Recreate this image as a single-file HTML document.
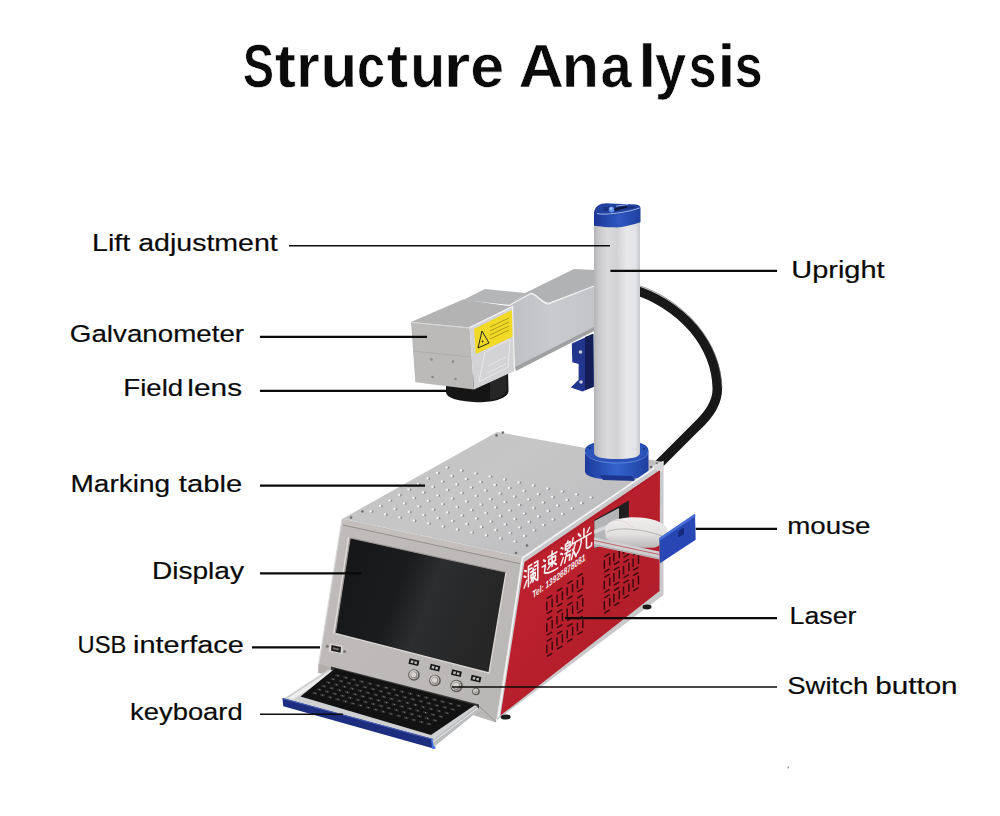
<!DOCTYPE html>
<html><head><meta charset="utf-8">
<style>
html,body{margin:0;padding:0;background:#fff;width:1000px;height:816px;overflow:hidden}
svg{position:absolute;left:0;top:0;display:block}
text{font-family:"Liberation Sans",sans-serif;fill:#0a0a0a}
</style></head>
<body>
<svg width="1000" height="816" viewBox="0 0 1000 816">
<defs>
  <linearGradient id="colG" x1="0" x2="1" y1="0" y2="0">
    <stop offset="0" stop-color="#b4b4b6"/>
    <stop offset="0.1" stop-color="#c8c8ca"/>
    <stop offset="0.3" stop-color="#dadadc"/>
    <stop offset="0.5" stop-color="#d2d2d4"/>
    <stop offset="0.72" stop-color="#e9e9eb"/>
    <stop offset="0.9" stop-color="#e2e3e6"/>
    <stop offset="1" stop-color="#c6c8cd"/>
  </linearGradient>
  <linearGradient id="capG" x1="0" x2="1" y1="0" y2="0">
    <stop offset="0" stop-color="#1c3796"/>
    <stop offset="0.55" stop-color="#2f58c0"/>
    <stop offset="1" stop-color="#20409f"/>
  </linearGradient>
  <linearGradient id="ringG" x1="0" x2="1" y1="0" y2="0">
    <stop offset="0" stop-color="#1d3a9c"/>
    <stop offset="0.5" stop-color="#3464cc"/>
    <stop offset="1" stop-color="#1f3fa0"/>
  </linearGradient>
  <linearGradient id="redG" x1="0" x2="1" y1="0" y2="1">
    <stop offset="0" stop-color="#c32230"/>
    <stop offset="0.5" stop-color="#b81f2c"/>
    <stop offset="1" stop-color="#ab1d29"/>
  </linearGradient>
  <linearGradient id="topG" x1="0" x2="1" y1="0" y2="0.6">
    <stop offset="0" stop-color="#c2c2c3"/>
    <stop offset="0.5" stop-color="#c6c6c7"/>
    <stop offset="1" stop-color="#bdbdbf"/>
  </linearGradient>
  <linearGradient id="scrG" x1="0" x2="1" y1="0" y2="0.3">
    <stop offset="0" stop-color="#141516"/>
    <stop offset="0.45" stop-color="#1b1c1d"/>
    <stop offset="0.62" stop-color="#2c2d2e"/>
    <stop offset="1" stop-color="#262627"/>
  </linearGradient>
  <linearGradient id="bezG" x1="0" x2="1" y1="0" y2="1">
    <stop offset="0" stop-color="#bfbcbb"/>
    <stop offset="1" stop-color="#b9b7b6"/>
  </linearGradient>
  <linearGradient id="armG" x1="0" x2="1" y1="0" y2="0">
    <stop offset="0" stop-color="#bfc0c3"/>
    <stop offset="0.5" stop-color="#c9cacd"/>
    <stop offset="1" stop-color="#c3c5c9"/>
  </linearGradient>
  <radialGradient id="btnG" cx="0.4" cy="0.4" r="0.6">
    <stop offset="0" stop-color="#e8e8e8"/>
    <stop offset="0.6" stop-color="#9a9a9a"/>
    <stop offset="1" stop-color="#4a4a4a"/>
  </radialGradient>
</defs>
<g font-size="61" font-weight="bold" stroke="#fff" stroke-width="0.6">
<text transform="translate(242.98 86.5) scale(0.761 1)">S</text>
<text transform="translate(274.76 86.5) scale(1.044 1)">t</text>
<text transform="translate(296.00 86.5) scale(1.000 1)">r</text>
<text transform="translate(320.57 86.5) scale(0.983 1)">u</text>
<text transform="translate(357.11 86.5) scale(0.829 1)">c</text>
<text transform="translate(386.53 86.5) scale(1.067 1)">t</text>
<text transform="translate(410.25 86.5) scale(0.938 1)">u</text>
<text transform="translate(443.55 86.5) scale(1.129 1)">r</text>
<text transform="translate(470.20 86.5) scale(1.000 1)">e</text>
<text transform="translate(518.43 86.5) scale(1.032 1)">A</text>
<text transform="translate(561.70 86.5) scale(1.000 1)">n</text>
<text transform="translate(600.56 86.5) scale(0.919 1)">a</text>
<text transform="translate(638.34 86.5) scale(1.071 1)">l</text>
<text transform="translate(655.08 86.5) scale(0.919 1)">y</text>
<text transform="translate(688.85 86.5) scale(0.818 1)">s</text>
<text transform="translate(717.51 86.5) scale(1.057 1)">i</text>
<text transform="translate(734.75 86.5) scale(0.818 1)">s</text>
</g>
<g font-size="24.5" stroke="#0a0a0a" stroke-width="0.2">
<text transform="translate(91.96 251.1) scale(1.171 1)">Lift</text>
<text transform="translate(138.24 251.1) scale(1.165 1)">adjustment</text>
<text transform="translate(69.87 341.5) scale(1.133 1)">Galvanometer</text>
<text transform="translate(123.34 395.7) scale(1.128 1)">Field</text>
<text transform="translate(187.37 395.7) scale(1.217 1)">lens</text>
<text transform="translate(70.51 491.5) scale(1.144 1)">Marking</text>
<text transform="translate(178.80 491.5) scale(1.194 1)">table</text>
<text transform="translate(151.91 579.1) scale(1.147 1)">Display</text>
<text transform="translate(77.56 653.3) scale(0.968 1)">USB</text>
<text transform="translate(133.04 653.3) scale(1.180 1)">interface</text>
<text transform="translate(130.06 720.4) scale(1.118 1)">keyboard</text>
<text transform="translate(791.24 278.3) scale(1.182 1)">Upright</text>
<text transform="translate(787.24 533.9) scale(1.132 1)">mouse</text>
<text transform="translate(789.62 623.6) scale(1.090 1)">Laser</text>
<text transform="translate(787.18 694.3) scale(1.124 1)">Switch</text>
<text transform="translate(875.18 694.3) scale(1.211 1)">button</text>
</g>
<g id="machine">
<path d="M636 290.5 C 652 295, 676 308, 694 329 C 708 346, 717 366, 717.3 389 C 717.5 404, 708 416, 696 427 L 658 465" fill="none" stroke="#181818" stroke-width="9.5" stroke-linecap="butt" stroke-linejoin="round"/>
<path d="M640 286 C 656 291, 680 304, 698 326 C 712 343, 721 364, 722 388" fill="none" stroke="#6a6a6a" stroke-width="1" opacity="0.7"/>
<polygon points="463,300 485,289 525,293 510,305" fill="#b5b6b8"/>
<path d="M510,305 L525,293 L574,269 L594,270 L594,286 L548,303 C 540,300 536,293 531,293 Z" fill="#b1b2b4"/>
<path d="M510,305 L531,293.5 C 537,294 541,303 548,304 L594,286 L594,329 L560,346 L515,369 Z" fill="url(#armG)"/>
<path d="M510,305 L531,293.5 C 537,294 541,303 548,304 L594,286" fill="none" stroke="#eeeeef" stroke-width="1.3"/>
<polygon points="515,367 594,327 594,331 516,371" fill="#9fa0a2"/>
<polygon points="571.8,343.5 593.3,333.7 593.8,386.7 582.5,391.6 570.8,387.6 578.6,379.8 578.6,364.1 572.3,362.2" fill="#22368e"/>
<polygon points="585,337 593.3,333.7 593.8,386.7 585,390" fill="#141f58"/>
<circle cx="580.5" cy="352" r="1.8" fill="#c8ccd8"/><circle cx="581" cy="382" r="1.8" fill="#c8ccd8"/>
<path d="M446 377 L508 371 L508.5 391 C 508 400, 488 403, 474 402 C 458 401, 446 398, 446 392 Z" fill="#151515"/>
<path d="M490 376 L506 373 L507 390 C 505 396, 496 399, 490 400 Z" fill="#262626"/>
<polygon points="411,322 463,299.5 512.5,306.5 469.6,327.6" fill="#b3b3b3"/>
<polygon points="411,322 469.6,327.6 474,389.5 415.3,382.3" fill="#bbbab9"/>
<line x1="413" y1="351" x2="471" y2="357" stroke="#a9a8a7" stroke-width="0.8"/><polyline points="411.5,322.5 469.6,328" fill="none" stroke="#dcdcdc" stroke-width="0.9"/>
<circle cx="431.5" cy="359.5" r="1.3" fill="#8a8988"/>
<circle cx="453" cy="361.5" r="1.3" fill="#8a8988"/>
<circle cx="432.5" cy="377" r="1.3" fill="#8a8988"/>
<circle cx="455.5" cy="379" r="1.3" fill="#8a8988"/>
<polygon points="469.6,327.6 512.5,306.5 514.5,371 474,389.5" fill="#d3d3d5"/>
<polyline points="469.6,327.6 512.5,306.5 514.5,371" fill="none" stroke="#f2f2f3" stroke-width="1.2"/>
<polygon points="474,329 512,310 512.5,336.8 475.8,354" fill="#f1da26"/>
<polygon points="478,348 482,331 489,343" fill="none" stroke="#222" stroke-width="1"/>
<circle cx="482.5" cy="341.5" r="0.9" fill="#222"/>
<line x1="490" y1="327" x2="509" y2="318" stroke="#6b5d10" stroke-width="0.5"/>
<line x1="490" y1="331" x2="509" y2="322" stroke="#6b5d10" stroke-width="0.5"/>
<line x1="490" y1="335" x2="509" y2="326" stroke="#6b5d10" stroke-width="0.5"/>
<line x1="490" y1="339" x2="509" y2="330" stroke="#6b5d10" stroke-width="0.5"/>
<polygon points="479,382 508,367 510,339 485,352" fill="none" stroke="#eaeaeb" stroke-width="0.9"/>
<line x1="488" y1="366" x2="506" y2="357" stroke="#eaeaeb" stroke-width="0.9"/><line x1="487" y1="373" x2="506" y2="364" stroke="#eaeaeb" stroke-width="0.9"/>
<path d="M594,222 L640,218 L640,446 L594,446 Z" fill="url(#colG)"/>
<path d="M594,212.5 C 595,206 600,203.5 606,203.3 L636,204.5 C 640,205 640.5,207 640.5,209 L640.5,222.3 C 632,225 622,227.5 617,227.5 C 606,227.5 594,226 594,225.6 Z" fill="url(#capG)"/>
<path d="M594.5,213 C 596,207 601,204 607,204 L635,205 C 639,205.5 640,207 640,209 C 636,211 625,213 615,214.5 C 605,215.5 597,215 594.5,213 Z" fill="#22409e"/>
<path d="M597,213.5 C 604,215.5 628,212.5 639.5,208" fill="none" stroke="#9fb8ee" stroke-width="1"/>
<path d="M603,207 L634,206 L636,208 L604,211 Z" fill="#1a3282"/>
<ellipse cx="611.5" cy="209.5" rx="2.8" ry="3" fill="#5d8ff0"/>
<ellipse cx="611" cy="208.5" rx="1.3" ry="1.2" fill="#a9c6fa"/>
<path d="M614,208.5 L626,205.5 L627.5,207.5 L615,211 Z" fill="#0c1640"/>
<path d="M616,206.2 L628,204.5" fill="none" stroke="#c9d8f5" stroke-width="0.7"/>
<polygon points="497,432 663,462 522.5,557.5 342,519" fill="url(#topG)"/>
<polyline points="342,519 522.5,557.5 663,462" fill="none" stroke="#e2e2e4" stroke-width="1.2"/>
<g>
<g fill="#8a8a8c"><ellipse cx="447.9" cy="467.7" rx="1.5" ry="1.1"/><ellipse cx="462.3" cy="470.7" rx="1.5" ry="1.1"/><ellipse cx="476.7" cy="473.7" rx="1.5" ry="1.1"/><ellipse cx="491.1" cy="476.7" rx="1.5" ry="1.1"/><ellipse cx="505.5" cy="479.7" rx="1.5" ry="1.1"/><ellipse cx="519.9" cy="482.7" rx="1.5" ry="1.1"/><ellipse cx="534.3" cy="485.7" rx="1.5" ry="1.1"/><ellipse cx="548.7" cy="488.7" rx="1.5" ry="1.1"/><ellipse cx="563.1" cy="491.7" rx="1.5" ry="1.1"/><ellipse cx="577.5" cy="494.7" rx="1.5" ry="1.1"/><ellipse cx="591.9" cy="497.7" rx="1.5" ry="1.1"/><ellipse cx="438.4" cy="473.2" rx="1.5" ry="1.1"/><ellipse cx="452.8" cy="476.2" rx="1.5" ry="1.1"/><ellipse cx="467.2" cy="479.2" rx="1.5" ry="1.1"/><ellipse cx="481.6" cy="482.2" rx="1.5" ry="1.1"/><ellipse cx="496.0" cy="485.2" rx="1.5" ry="1.1"/><ellipse cx="510.4" cy="488.2" rx="1.5" ry="1.1"/><ellipse cx="524.8" cy="491.2" rx="1.5" ry="1.1"/><ellipse cx="539.2" cy="494.2" rx="1.5" ry="1.1"/><ellipse cx="553.6" cy="497.2" rx="1.5" ry="1.1"/><ellipse cx="568.0" cy="500.2" rx="1.5" ry="1.1"/><ellipse cx="582.4" cy="503.2" rx="1.5" ry="1.1"/><ellipse cx="428.9" cy="478.7" rx="1.5" ry="1.1"/><ellipse cx="443.3" cy="481.7" rx="1.5" ry="1.1"/><ellipse cx="457.7" cy="484.7" rx="1.5" ry="1.1"/><ellipse cx="472.1" cy="487.7" rx="1.5" ry="1.1"/><ellipse cx="486.5" cy="490.7" rx="1.5" ry="1.1"/><ellipse cx="500.9" cy="493.7" rx="1.5" ry="1.1"/><ellipse cx="515.3" cy="496.7" rx="1.5" ry="1.1"/><ellipse cx="529.7" cy="499.7" rx="1.5" ry="1.1"/><ellipse cx="544.1" cy="502.7" rx="1.5" ry="1.1"/><ellipse cx="558.5" cy="505.7" rx="1.5" ry="1.1"/><ellipse cx="572.9" cy="508.7" rx="1.5" ry="1.1"/><ellipse cx="419.4" cy="484.2" rx="1.5" ry="1.1"/><ellipse cx="433.8" cy="487.2" rx="1.5" ry="1.1"/><ellipse cx="448.2" cy="490.2" rx="1.5" ry="1.1"/><ellipse cx="462.6" cy="493.2" rx="1.5" ry="1.1"/><ellipse cx="477.0" cy="496.2" rx="1.5" ry="1.1"/><ellipse cx="491.4" cy="499.2" rx="1.5" ry="1.1"/><ellipse cx="505.8" cy="502.2" rx="1.5" ry="1.1"/><ellipse cx="520.2" cy="505.2" rx="1.5" ry="1.1"/><ellipse cx="534.6" cy="508.2" rx="1.5" ry="1.1"/><ellipse cx="549.0" cy="511.2" rx="1.5" ry="1.1"/><ellipse cx="563.4" cy="514.2" rx="1.5" ry="1.1"/><ellipse cx="409.9" cy="489.7" rx="1.5" ry="1.1"/><ellipse cx="424.3" cy="492.7" rx="1.5" ry="1.1"/><ellipse cx="438.7" cy="495.7" rx="1.5" ry="1.1"/><ellipse cx="453.1" cy="498.7" rx="1.5" ry="1.1"/><ellipse cx="467.5" cy="501.7" rx="1.5" ry="1.1"/><ellipse cx="481.9" cy="504.7" rx="1.5" ry="1.1"/><ellipse cx="496.3" cy="507.7" rx="1.5" ry="1.1"/><ellipse cx="510.7" cy="510.7" rx="1.5" ry="1.1"/><ellipse cx="525.1" cy="513.7" rx="1.5" ry="1.1"/><ellipse cx="539.5" cy="516.7" rx="1.5" ry="1.1"/><ellipse cx="553.9" cy="519.7" rx="1.5" ry="1.1"/><ellipse cx="400.4" cy="495.2" rx="1.5" ry="1.1"/><ellipse cx="414.8" cy="498.2" rx="1.5" ry="1.1"/><ellipse cx="429.2" cy="501.2" rx="1.5" ry="1.1"/><ellipse cx="443.6" cy="504.2" rx="1.5" ry="1.1"/><ellipse cx="458.0" cy="507.2" rx="1.5" ry="1.1"/><ellipse cx="472.4" cy="510.2" rx="1.5" ry="1.1"/><ellipse cx="486.8" cy="513.2" rx="1.5" ry="1.1"/><ellipse cx="501.2" cy="516.2" rx="1.5" ry="1.1"/><ellipse cx="515.6" cy="519.2" rx="1.5" ry="1.1"/><ellipse cx="530.0" cy="522.2" rx="1.5" ry="1.1"/><ellipse cx="544.4" cy="525.2" rx="1.5" ry="1.1"/><ellipse cx="390.9" cy="500.7" rx="1.5" ry="1.1"/><ellipse cx="405.3" cy="503.7" rx="1.5" ry="1.1"/><ellipse cx="419.7" cy="506.7" rx="1.5" ry="1.1"/><ellipse cx="434.1" cy="509.7" rx="1.5" ry="1.1"/><ellipse cx="448.5" cy="512.7" rx="1.5" ry="1.1"/><ellipse cx="462.9" cy="515.7" rx="1.5" ry="1.1"/><ellipse cx="477.3" cy="518.7" rx="1.5" ry="1.1"/><ellipse cx="491.7" cy="521.7" rx="1.5" ry="1.1"/><ellipse cx="506.1" cy="524.7" rx="1.5" ry="1.1"/><ellipse cx="520.5" cy="527.7" rx="1.5" ry="1.1"/><ellipse cx="534.9" cy="530.7" rx="1.5" ry="1.1"/><ellipse cx="381.4" cy="506.2" rx="1.5" ry="1.1"/><ellipse cx="395.8" cy="509.2" rx="1.5" ry="1.1"/><ellipse cx="410.2" cy="512.2" rx="1.5" ry="1.1"/><ellipse cx="424.6" cy="515.2" rx="1.5" ry="1.1"/><ellipse cx="439.0" cy="518.2" rx="1.5" ry="1.1"/><ellipse cx="453.4" cy="521.2" rx="1.5" ry="1.1"/><ellipse cx="467.8" cy="524.2" rx="1.5" ry="1.1"/><ellipse cx="482.2" cy="527.2" rx="1.5" ry="1.1"/><ellipse cx="496.6" cy="530.2" rx="1.5" ry="1.1"/><ellipse cx="511.0" cy="533.2" rx="1.5" ry="1.1"/><ellipse cx="525.4" cy="536.2" rx="1.5" ry="1.1"/><ellipse cx="371.9" cy="511.7" rx="1.5" ry="1.1"/><ellipse cx="386.3" cy="514.7" rx="1.5" ry="1.1"/><ellipse cx="400.7" cy="517.7" rx="1.5" ry="1.1"/><ellipse cx="415.1" cy="520.7" rx="1.5" ry="1.1"/><ellipse cx="429.5" cy="523.7" rx="1.5" ry="1.1"/><ellipse cx="443.9" cy="526.7" rx="1.5" ry="1.1"/><ellipse cx="458.3" cy="529.7" rx="1.5" ry="1.1"/><ellipse cx="472.7" cy="532.7" rx="1.5" ry="1.1"/><ellipse cx="487.1" cy="535.7" rx="1.5" ry="1.1"/><ellipse cx="501.5" cy="538.7" rx="1.5" ry="1.1"/><ellipse cx="515.9" cy="541.7" rx="1.5" ry="1.1"/></g><g fill="#f6f6f7"><ellipse cx="446.6" cy="467.4" rx="1.3" ry="1.05"/><ellipse cx="461.0" cy="470.4" rx="1.3" ry="1.05"/><ellipse cx="475.4" cy="473.4" rx="1.3" ry="1.05"/><ellipse cx="489.8" cy="476.4" rx="1.3" ry="1.05"/><ellipse cx="504.2" cy="479.4" rx="1.3" ry="1.05"/><ellipse cx="518.6" cy="482.4" rx="1.3" ry="1.05"/><ellipse cx="533.0" cy="485.4" rx="1.3" ry="1.05"/><ellipse cx="547.4" cy="488.4" rx="1.3" ry="1.05"/><ellipse cx="561.8" cy="491.4" rx="1.3" ry="1.05"/><ellipse cx="576.2" cy="494.4" rx="1.3" ry="1.05"/><ellipse cx="590.6" cy="497.4" rx="1.3" ry="1.05"/><ellipse cx="437.1" cy="472.9" rx="1.3" ry="1.05"/><ellipse cx="451.5" cy="475.9" rx="1.3" ry="1.05"/><ellipse cx="465.9" cy="478.9" rx="1.3" ry="1.05"/><ellipse cx="480.3" cy="481.9" rx="1.3" ry="1.05"/><ellipse cx="494.7" cy="484.9" rx="1.3" ry="1.05"/><ellipse cx="509.1" cy="487.9" rx="1.3" ry="1.05"/><ellipse cx="523.5" cy="490.9" rx="1.3" ry="1.05"/><ellipse cx="537.9" cy="493.9" rx="1.3" ry="1.05"/><ellipse cx="552.3" cy="496.9" rx="1.3" ry="1.05"/><ellipse cx="566.7" cy="499.9" rx="1.3" ry="1.05"/><ellipse cx="581.1" cy="502.9" rx="1.3" ry="1.05"/><ellipse cx="427.6" cy="478.4" rx="1.3" ry="1.05"/><ellipse cx="442.0" cy="481.4" rx="1.3" ry="1.05"/><ellipse cx="456.4" cy="484.4" rx="1.3" ry="1.05"/><ellipse cx="470.8" cy="487.4" rx="1.3" ry="1.05"/><ellipse cx="485.2" cy="490.4" rx="1.3" ry="1.05"/><ellipse cx="499.6" cy="493.4" rx="1.3" ry="1.05"/><ellipse cx="514.0" cy="496.4" rx="1.3" ry="1.05"/><ellipse cx="528.4" cy="499.4" rx="1.3" ry="1.05"/><ellipse cx="542.8" cy="502.4" rx="1.3" ry="1.05"/><ellipse cx="557.2" cy="505.4" rx="1.3" ry="1.05"/><ellipse cx="571.6" cy="508.4" rx="1.3" ry="1.05"/><ellipse cx="418.1" cy="483.9" rx="1.3" ry="1.05"/><ellipse cx="432.5" cy="486.9" rx="1.3" ry="1.05"/><ellipse cx="446.9" cy="489.9" rx="1.3" ry="1.05"/><ellipse cx="461.3" cy="492.9" rx="1.3" ry="1.05"/><ellipse cx="475.7" cy="495.9" rx="1.3" ry="1.05"/><ellipse cx="490.1" cy="498.9" rx="1.3" ry="1.05"/><ellipse cx="504.5" cy="501.9" rx="1.3" ry="1.05"/><ellipse cx="518.9" cy="504.9" rx="1.3" ry="1.05"/><ellipse cx="533.3" cy="507.9" rx="1.3" ry="1.05"/><ellipse cx="547.7" cy="510.9" rx="1.3" ry="1.05"/><ellipse cx="562.1" cy="513.9" rx="1.3" ry="1.05"/><ellipse cx="408.6" cy="489.4" rx="1.3" ry="1.05"/><ellipse cx="423.0" cy="492.4" rx="1.3" ry="1.05"/><ellipse cx="437.4" cy="495.4" rx="1.3" ry="1.05"/><ellipse cx="451.8" cy="498.4" rx="1.3" ry="1.05"/><ellipse cx="466.2" cy="501.4" rx="1.3" ry="1.05"/><ellipse cx="480.6" cy="504.4" rx="1.3" ry="1.05"/><ellipse cx="495.0" cy="507.4" rx="1.3" ry="1.05"/><ellipse cx="509.4" cy="510.4" rx="1.3" ry="1.05"/><ellipse cx="523.8" cy="513.4" rx="1.3" ry="1.05"/><ellipse cx="538.2" cy="516.4" rx="1.3" ry="1.05"/><ellipse cx="552.6" cy="519.4" rx="1.3" ry="1.05"/><ellipse cx="399.1" cy="494.9" rx="1.3" ry="1.05"/><ellipse cx="413.5" cy="497.9" rx="1.3" ry="1.05"/><ellipse cx="427.9" cy="500.9" rx="1.3" ry="1.05"/><ellipse cx="442.3" cy="503.9" rx="1.3" ry="1.05"/><ellipse cx="456.7" cy="506.9" rx="1.3" ry="1.05"/><ellipse cx="471.1" cy="509.9" rx="1.3" ry="1.05"/><ellipse cx="485.5" cy="512.9" rx="1.3" ry="1.05"/><ellipse cx="499.9" cy="515.9" rx="1.3" ry="1.05"/><ellipse cx="514.3" cy="518.9" rx="1.3" ry="1.05"/><ellipse cx="528.7" cy="521.9" rx="1.3" ry="1.05"/><ellipse cx="543.1" cy="524.9" rx="1.3" ry="1.05"/><ellipse cx="389.6" cy="500.4" rx="1.3" ry="1.05"/><ellipse cx="404.0" cy="503.4" rx="1.3" ry="1.05"/><ellipse cx="418.4" cy="506.4" rx="1.3" ry="1.05"/><ellipse cx="432.8" cy="509.4" rx="1.3" ry="1.05"/><ellipse cx="447.2" cy="512.4" rx="1.3" ry="1.05"/><ellipse cx="461.6" cy="515.4" rx="1.3" ry="1.05"/><ellipse cx="476.0" cy="518.4" rx="1.3" ry="1.05"/><ellipse cx="490.4" cy="521.4" rx="1.3" ry="1.05"/><ellipse cx="504.8" cy="524.4" rx="1.3" ry="1.05"/><ellipse cx="519.2" cy="527.4" rx="1.3" ry="1.05"/><ellipse cx="533.6" cy="530.4" rx="1.3" ry="1.05"/><ellipse cx="380.1" cy="505.9" rx="1.3" ry="1.05"/><ellipse cx="394.5" cy="508.9" rx="1.3" ry="1.05"/><ellipse cx="408.9" cy="511.9" rx="1.3" ry="1.05"/><ellipse cx="423.3" cy="514.9" rx="1.3" ry="1.05"/><ellipse cx="437.7" cy="517.9" rx="1.3" ry="1.05"/><ellipse cx="452.1" cy="520.9" rx="1.3" ry="1.05"/><ellipse cx="466.5" cy="523.9" rx="1.3" ry="1.05"/><ellipse cx="480.9" cy="526.9" rx="1.3" ry="1.05"/><ellipse cx="495.3" cy="529.9" rx="1.3" ry="1.05"/><ellipse cx="509.7" cy="532.9" rx="1.3" ry="1.05"/><ellipse cx="524.1" cy="535.9" rx="1.3" ry="1.05"/><ellipse cx="370.6" cy="511.4" rx="1.3" ry="1.05"/><ellipse cx="385.0" cy="514.4" rx="1.3" ry="1.05"/><ellipse cx="399.4" cy="517.4" rx="1.3" ry="1.05"/><ellipse cx="413.8" cy="520.4" rx="1.3" ry="1.05"/><ellipse cx="428.2" cy="523.4" rx="1.3" ry="1.05"/><ellipse cx="442.6" cy="526.4" rx="1.3" ry="1.05"/><ellipse cx="457.0" cy="529.4" rx="1.3" ry="1.05"/><ellipse cx="471.4" cy="532.4" rx="1.3" ry="1.05"/><ellipse cx="485.8" cy="535.4" rx="1.3" ry="1.05"/><ellipse cx="500.2" cy="538.4" rx="1.3" ry="1.05"/><ellipse cx="514.6" cy="541.4" rx="1.3" ry="1.05"/></g>
</g>
<circle cx="496.6" cy="435.4" r="1.3" fill="#6f6f71"/>
<circle cx="502.8" cy="432.6" r="1.3" fill="#6f6f71"/>
<circle cx="351" cy="517.5" r="1.3" fill="#6f6f71"/>
<circle cx="362.5" cy="511.5" r="1.3" fill="#6f6f71"/>
<circle cx="516" cy="553" r="1.3" fill="#6f6f71"/>
<circle cx="527" cy="545.5" r="1.3" fill="#6f6f71"/>
<circle cx="651" cy="467" r="1.3" fill="#6f6f71"/>
<circle cx="657" cy="463.5" r="1.3" fill="#6f6f71"/>
<path d="M585,451 C 585,442 601,441 617,441 C 633,441 648.5,442 648.5,451 L648.5,471 C 648.5,478 633,479.5 617,479.5 C 601,479.5 585,478 585,471 Z" fill="url(#ringG)"/>
<path d="M585.5,451 C 585.5,444 601,442.5 617,442.5 C 633,442.5 648,444 648,451 C 648,458 633,462.5 617,462.5 C 601,462.5 585.5,458 585.5,451 Z" fill="#2a52b8"/>
<path d="M594,440 L640,440 L640,453 C 640,457.5 630,459 617,459 C 604,459 594,457.5 594,453 Z" fill="url(#colG)"/>
<path d="M585.5,452 C 586,459 601,463 617,463 C 633,463 648,459 648,452" fill="none" stroke="#6f95e6" stroke-width="0.9" opacity="0.8"/>
<circle cx="590" cy="448" r="0.9" fill="#14276b"/><circle cx="644" cy="449" r="0.9" fill="#14276b"/>
<polygon points="600,475 632,476 636,481 603,480" fill="#1d3791"/>
<polygon points="342,519 522.5,557.5 496,722.5 318.5,665" fill="url(#bezG)"/>
<polygon points="342,519 522.5,557.5 521.5,563.5 342.8,524.5" fill="#c4bfbd"/>
<polyline points="342.8,525 521.5,564" fill="none" stroke="#8f8a88" stroke-width="0.9"/>
<polyline points="318.5,665 342,519" fill="none" stroke="#dadadc" stroke-width="1.2"/>
<polygon points="350.2,538 506,572.3 489,673 335.3,633.4" fill="url(#scrG)"/>
<polyline points="335.3,633.4 489,673 506,572.3" fill="none" stroke="#dedad8" stroke-width="1.3"/><polyline points="335.3,633.4 350.2,538 506,572.3" fill="none" stroke="#9b9694" stroke-width="1.1"/>
<polyline points="333.6,634 348.6,537" fill="none" stroke="#e2dedc" stroke-width="1.2"/>
<polygon points="329.5,643.5 342.8,646 342.3,654 329,651.5" fill="#dcd8d6"/>
<polygon points="331.5,645 341,647 340.6,652.8 331.1,650.8" fill="#1e1e1e"/>
<polygon points="333,647.2 339,648.4 338.8,650.4 332.8,649.2" fill="#6a6a6a"/>
<circle cx="327.2" cy="646.3" r="1.5" fill="#7a7674"/><circle cx="344.6" cy="651.6" r="1.5" fill="#7a7674"/>
<g transform="rotate(14 414 662)"><rect x="409" y="659.5" width="10" height="5.5" fill="#161616"/><rect x="410.7" y="661" width="2.6" height="2.5" fill="#bbb"/><rect x="414.5" y="661" width="2.6" height="2.5" fill="#bbb"/></g>
<circle cx="414" cy="675" r="5.8" fill="#5a5856"/>
<circle cx="413.7" cy="674.7" r="4.6" fill="#cfcdca"/>
<circle cx="414" cy="675" r="3.5" fill="#8a8784"/>
<circle cx="413.6" cy="674.6" r="2.5999999999999996" fill="#d8d5d2"/>
<g transform="rotate(14 435 667.5)"><rect x="430" y="665.0" width="10" height="5.5" fill="#161616"/><rect x="431.7" y="666.5" width="2.6" height="2.5" fill="#bbb"/><rect x="435.5" y="666.5" width="2.6" height="2.5" fill="#bbb"/></g>
<circle cx="435" cy="680.5" r="5.8" fill="#5a5856"/>
<circle cx="434.7" cy="680.2" r="4.6" fill="#cfcdca"/>
<circle cx="435" cy="680.5" r="3.5" fill="#8a8784"/>
<circle cx="434.6" cy="680.1" r="2.5999999999999996" fill="#d8d5d2"/>
<g transform="rotate(14 456.5 673)"><rect x="451.5" y="670.5" width="10" height="5.5" fill="#161616"/><rect x="453.2" y="672" width="2.6" height="2.5" fill="#bbb"/><rect x="457.0" y="672" width="2.6" height="2.5" fill="#bbb"/></g>
<circle cx="456.5" cy="686" r="6.2" fill="#5a5856"/>
<circle cx="456.2" cy="685.7" r="5.0" fill="#cfcdca"/>
<circle cx="456.5" cy="686" r="3.9000000000000004" fill="#8a8784"/>
<circle cx="456.1" cy="685.6" r="3.0" fill="#d8d5d2"/>
<g transform="rotate(14 476 678.5)"><rect x="471" y="676.0" width="10" height="5.5" fill="#161616"/><rect x="472.7" y="677.5" width="2.6" height="2.5" fill="#bbb"/><rect x="476.5" y="677.5" width="2.6" height="2.5" fill="#bbb"/></g>
<circle cx="476" cy="691.5" r="3.8" fill="#5a5856"/>
<circle cx="475.7" cy="691.2" r="2.5999999999999996" fill="#cfcdca"/>
<circle cx="476" cy="691.5" r="1.5" fill="#8a8784"/>
<circle cx="475.6" cy="691.1" r="1" fill="#d8d5d2"/>
<polygon points="318.5,664 334,668 333,675.5 318,673" fill="#b3afad"/>
<polygon points="331,666.5 479,704.5 479,708.5 331,670" fill="#3a3a3a"/>
<polyline points="479,706 496,722" fill="none" stroke="#8a8887" stroke-width="0.8"/>
<polygon points="521.5,556.5 663.5,461 663.5,595 497,720" fill="#c9c9cb"/>
<polygon points="524.5,562 660,470 659.5,591 500.5,715.5" fill="url(#redG)"/>
<polyline points="498.5,717 522.5,558 663,462" fill="none" stroke="#f4f4f5" stroke-width="1.6"/>
<polyline points="526,563.5 660,471" fill="none" stroke="#8e1a22" stroke-width="0.8" opacity="0.6"/>
<polygon points="652,466 663.5,461 663.5,472 657,470" fill="#d9d9db"/>
<ellipse cx="505.7" cy="717" rx="5" ry="2.6" fill="#1a1a1a"/>
<ellipse cx="647" cy="607" rx="4.5" ry="2.4" fill="#1a1a1a"/>
<path d="M546.8 601.8V610.4M552.2 598.6V607.2M546.8 598.5L552.2 595.3M546.8 613.7L552.2 610.5M546.8 623.2V631.8M552.2 620.0V628.6M546.8 619.9L552.2 616.7M546.8 635.1L552.2 631.9M546.8 644.6V653.2M552.2 641.4V650.0M546.8 641.3L552.2 638.1M546.8 656.5L552.2 653.3M557.0 594.5V603.1M562.4 591.3V599.9M557.0 591.2L562.4 588.0M557.0 606.4L562.4 603.2M557.0 615.9V624.5M562.4 612.7V621.3M557.0 612.6L562.4 609.4M557.0 627.8L562.4 624.6M557.0 637.3V645.9M562.4 634.1V642.7M557.0 634.0L562.4 630.8M557.0 649.2L562.4 646.0M567.2 587.2V595.8M572.6 584.0V592.6M567.2 583.9L572.6 580.7M567.2 599.1L572.6 595.9M567.2 608.6V617.2M572.6 605.4V614.0M567.2 605.3L572.6 602.1M567.2 620.5L572.6 617.3M567.2 630.0V638.6M572.6 626.8V635.4M567.2 626.7L572.6 623.5M567.2 641.9L572.6 638.7M577.4 579.9V588.5M582.8 576.7V585.3M577.4 576.6L582.8 573.4M577.4 591.8L582.8 588.6M577.4 601.3V609.9M582.8 598.1V606.7M577.4 598.0L582.8 594.8M577.4 613.2L582.8 610.0M577.4 622.7V631.3M582.8 619.5V628.1M577.4 619.4L582.8 616.2M577.4 634.6L582.8 631.4M604.3 560.2V568.8M609.7 557.0V565.6M604.3 556.9L609.7 553.7M604.3 572.1L609.7 568.9M604.3 580.7V589.3M609.7 577.5V586.1M604.3 577.4L609.7 574.2M604.3 592.6L609.7 589.4M604.3 601.2V609.8M609.7 598.0V606.6M604.3 597.9L609.7 594.7M604.3 613.1L609.7 609.9M613.9 552.8V561.4M619.3 549.6V558.2M613.9 549.5L619.3 546.3M613.9 564.7L619.3 561.5M613.9 573.3V581.9M619.3 570.1V578.7M613.9 570.0L619.3 566.8M613.9 585.2L619.3 582.0M613.9 593.8V602.4M619.3 590.6V599.2M613.9 590.5L619.3 587.3M613.9 605.7L619.3 602.5M623.5 545.4V554.0M628.9 542.2V550.8M623.5 542.1L628.9 538.9M623.5 557.3L628.9 554.1M623.5 565.9V574.5M628.9 562.7V571.3M623.5 562.6L628.9 559.4M623.5 577.8L628.9 574.6M623.5 586.4V595.0M628.9 583.2V591.8M623.5 583.1L628.9 579.9M623.5 598.3L628.9 595.1M633.1 538.0V546.6M638.5 534.8V543.4M633.1 534.7L638.5 531.5M633.1 549.9L638.5 546.7M633.1 558.5V567.1M638.5 555.3V563.9M633.1 555.2L638.5 552.0M633.1 570.4L638.5 567.2M633.1 579.0V587.6M638.5 575.8V584.4M633.1 575.7L638.5 572.5M633.1 590.9L638.5 587.7" fill="none" stroke="#3d0a0f" stroke-width="1.5" stroke-linecap="butt"/>
<g fill="none" stroke="#f3efef" stroke-width="1.9" stroke-linecap="round" stroke-linejoin="round">
<path transform="translate(531 575) skewY(-30) scale(0.85 1.0)" d="M-7.5 -8 L-5.5 -6.5 M-8 -2.5 L-6 -1 M-8 9 L-5 3 M-3 -10 L-3 10 M-3 -10 L1 -10 M-3 -6.5 L1 -6.5 M4 -10 L8 -10 L8 9 L6.5 8 M4 -6.5 L8 -6.5 M-0.5 -3 L5.5 -3 M2.5 -5 L2.5 8 M0 0 L5 0 L5 3.5 L0 3.5 Z M2.5 3.5 L-0.5 7.5 M2.5 3.5 L5.5 7"/>
<path transform="translate(550 563.5) skewY(-30) scale(0.85 1.0)" d="M-2.5 -7.5 L8 -7.5 M2.5 -11 L2.5 4 M-1.5 -4.5 L6.5 -4.5 L6.5 0 L-1.5 0 Z M2.5 0 L-2.5 4.5 M2.5 0 L7.5 4.5 M-7.5 -7 L-5.5 -5 M-9 -1 L-5.5 -1 L-6.5 6 M-6.5 6 C -3 9, 3 9.5, 9 9"/>
<path transform="translate(568 552) skewY(-30) scale(0.85 1.0)" d="M-8 -8 L-6 -6.5 M-8.5 -2.5 L-6.5 -1 M-8.5 9 L-5.5 3 M-3 -9 L2.5 -9 L2.5 -3.5 L-3 -3.5 Z M-3 -6.2 L2.5 -6.2 M-0.2 -11 L-1 -9 M-3.5 0 L3 0 M-0.5 -2 L-0.5 0 M-1.5 1 L-4 9 M-0.5 3.5 L2.5 3.5 L1.5 9 M6 -11 L4.5 -4.5 M5 -5.5 L9.5 -5.5 M8.5 -4.5 L4 9.5 M5.5 0 L9.5 9"/>
<path transform="translate(583.5 540.5) skewY(-30) scale(0.85 1.0)" d="M0.5 -11.5 L0.5 -4 M-6 -9.5 L-3.5 -6 M7 -9.5 L4.5 -6 M-8.5 -3 L9 -3 M-2.5 -3 C -2.5 3, -5 8, -9 10.5 M3.5 -3 L3.5 8 C 3.5 10, 5 10.5, 9.5 9.5 L9.5 7"/>
</g>
<text x="0" y="0" font-size="10" font-weight="bold" style="fill:#f3efef" transform="translate(532.5 598.5) skewY(-36)" textLength="53" lengthAdjust="spacingAndGlyphs">Tel: 13926878081</text>
<polygon points="594.3,520 628.8,500.5 628.8,540 594.3,548" fill="#1f1f1f"/>
<polygon points="594.3,521 619,508 619,540 594.3,548" fill="#b4b5b7"/>
<polygon points="594.3,530 619,520 619,524 594.3,534" fill="#d6d6d8"/>
<defs><linearGradient id="mouseG" x1="0" x2="0" y1="0" y2="1"><stop offset="0" stop-color="#f0eeee"/><stop offset="0.55" stop-color="#e2dfdf"/><stop offset="1" stop-color="#b9b7b8"/></linearGradient></defs>
<path d="M605,531 C 604,524 612,519 628,517.5 C 648,516.5 662,521 667,528 C 669,536 663,545 655,547.5 C 638,549 613,545 606,538 Z" fill="url(#mouseG)"/>
<path d="M607,532 C 616,527 640,528 662,536" fill="none" stroke="#a9a7a8" stroke-width="0.8"/>
<path d="M612,521 C 620,519 628,522 633,528" fill="none" stroke="#d9c9c9" stroke-width="0.8" opacity="0.7"/>
<polygon points="594,537.5 659.3,551.5 659.3,559.5 594,545.5" fill="#cfcfd1"/>
<line x1="594" y1="540.5" x2="659.3" y2="554.5" stroke="#c06a70" stroke-width="1.1"/>
<line x1="594" y1="544.5" x2="659.3" y2="558.5" stroke="#9a9a9c" stroke-width="0.8"/>
<polygon points="659.3,537.9 695,513.8 695.7,539.8 660,563.2" fill="#2847b5"/>
<polygon points="659.3,537.9 695,513.8 695.5,516.3 660,540.5" fill="#4a6fd8"/>
<polygon points="678.5,531 684,527.5 684,534 678.5,537.5" fill="#15277a"/>
<polygon points="283.4,698.8 328.5,669.5 477,706 432.5,739.8" fill="#cfd0d2"/>
<polygon points="288,698 330,671 334,672 293,699.5" fill="#eeeeef"/>
<polygon points="335,668.5 475,705 431,735 300.5,696.5" fill="#121213"/>
<path d="M335.2 675.1l4.6 1.1M343.3 677.1l4.6 1.1M351.3 679.1l4.6 1.1M359.4 681.1l4.6 1.1M367.5 683.1l4.6 1.1M375.6 685.1l4.6 1.1M383.7 687.1l4.6 1.1M391.7 689.1l4.6 1.1M399.8 691.1l4.6 1.1M407.9 693.1l4.6 1.1M416.0 695.1l4.6 1.1M424.0 697.1l4.6 1.1M432.1 699.1l4.6 1.1M440.2 701.1l4.6 1.1M448.3 703.1l4.6 1.1M456.4 705.1l4.6 1.1M330.6 678.6l4.6 1.1M338.6 680.6l4.6 1.1M346.6 682.6l4.6 1.1M354.6 684.6l4.6 1.1M362.6 686.6l4.6 1.1M370.6 688.6l4.6 1.1M378.5 690.7l4.6 1.1M386.5 692.7l4.6 1.1M394.5 694.7l4.6 1.1M402.5 696.7l4.6 1.1M410.5 698.7l4.6 1.1M418.5 700.7l4.6 1.1M426.5 702.7l4.6 1.1M434.4 704.8l4.6 1.1M442.4 706.8l4.6 1.1M450.4 708.8l4.6 1.1M326.1 682.1l4.6 1.1M334.0 684.1l4.6 1.1M341.9 686.1l4.6 1.1M349.8 688.1l4.6 1.1M357.7 690.2l4.6 1.1M365.5 692.2l4.6 1.1M373.4 694.2l4.6 1.1M381.3 696.2l4.6 1.1M389.2 698.3l4.6 1.1M397.1 700.3l4.6 1.1M405.0 702.3l4.6 1.1M412.9 704.3l4.6 1.1M420.8 706.4l4.6 1.1M428.7 708.4l4.6 1.1M436.6 710.4l4.6 1.1M444.5 712.5l4.6 1.1M321.5 685.6l4.6 1.1M329.3 687.6l4.6 1.1M337.1 689.6l4.6 1.1M344.9 691.7l4.6 1.1M352.7 693.7l4.6 1.1M360.5 695.8l4.6 1.1M368.3 697.8l4.6 1.1M376.1 699.8l4.6 1.1M383.9 701.9l4.6 1.1M391.7 703.9l4.6 1.1M399.5 705.9l4.6 1.1M407.3 708.0l4.6 1.1M415.1 710.0l4.6 1.1M422.9 712.0l4.6 1.1M430.7 714.1l4.6 1.1M438.5 716.1l4.6 1.1M317.0 689.1l4.6 1.1M324.7 691.1l4.6 1.1M332.4 693.2l4.6 1.1M340.1 695.2l4.6 1.1M347.8 697.3l4.6 1.1M355.5 699.3l4.6 1.1M363.2 701.4l4.6 1.1M370.9 703.4l4.6 1.1M378.6 705.4l4.6 1.1M386.3 707.5l4.6 1.1M394.0 709.5l4.6 1.1M401.7 711.6l4.6 1.1M409.4 713.6l4.6 1.1M417.1 715.7l4.6 1.1M424.8 717.7l4.6 1.1M432.5 719.8l4.6 1.1M312.5 692.6l4.6 1.1M320.1 694.6l4.6 1.1M327.7 696.7l4.6 1.1M335.3 698.8l4.6 1.1M342.9 700.8l4.6 1.1M350.5 702.9l4.6 1.1M358.1 704.9l4.6 1.1M365.7 707.0l4.6 1.1M373.3 709.0l4.6 1.1M380.9 711.1l4.6 1.1M388.5 713.2l4.6 1.1M396.2 715.2l4.6 1.1M403.8 717.3l4.6 1.1M411.4 719.3l4.6 1.1M419.0 721.4l4.6 1.1M426.6 723.4l4.6 1.1" stroke="#2e2e30" stroke-width="2.3" fill="none"/>
<path d="M337.3 675.6l1 0.25M345.4 677.6l1 0.25M353.4 679.6l1 0.25M361.5 681.6l1 0.25M369.6 683.6l1 0.25M377.7 685.6l1 0.25M385.8 687.6l1 0.25M393.8 689.6l1 0.25M401.9 691.6l1 0.25M410.0 693.6l1 0.25M418.1 695.6l1 0.25M426.1 697.6l1 0.25M434.2 699.6l1 0.25M442.3 701.6l1 0.25M450.4 703.6l1 0.25M458.5 705.6l1 0.25M332.7 679.1l1 0.25M340.7 681.1l1 0.25M348.7 683.1l1 0.25M356.7 685.1l1 0.25M364.7 687.1l1 0.25M372.7 689.1l1 0.25M380.6 691.2l1 0.25M388.6 693.2l1 0.25M396.6 695.2l1 0.25M404.6 697.2l1 0.25M412.6 699.2l1 0.25M420.6 701.2l1 0.25M428.6 703.2l1 0.25M436.5 705.3l1 0.25M444.5 707.3l1 0.25M452.5 709.3l1 0.25M328.2 682.6l1 0.25M336.1 684.6l1 0.25M344.0 686.6l1 0.25M351.9 688.6l1 0.25M359.8 690.7l1 0.25M367.6 692.7l1 0.25M375.5 694.7l1 0.25M383.4 696.7l1 0.25M391.3 698.8l1 0.25M399.2 700.8l1 0.25M407.1 702.8l1 0.25M415.0 704.8l1 0.25M422.9 706.9l1 0.25M430.8 708.9l1 0.25M438.7 710.9l1 0.25M446.6 713.0l1 0.25M323.6 686.1l1 0.25M331.4 688.1l1 0.25M339.2 690.1l1 0.25M347.0 692.2l1 0.25M354.8 694.2l1 0.25M362.6 696.3l1 0.25M370.4 698.3l1 0.25M378.2 700.3l1 0.25M386.0 702.4l1 0.25M393.8 704.4l1 0.25M401.6 706.4l1 0.25M409.4 708.5l1 0.25M417.2 710.5l1 0.25M425.0 712.5l1 0.25M432.8 714.6l1 0.25M440.6 716.6l1 0.25M319.1 689.6l1 0.25M326.8 691.6l1 0.25M334.5 693.7l1 0.25M342.2 695.7l1 0.25M349.9 697.8l1 0.25M357.6 699.8l1 0.25M365.3 701.9l1 0.25M373.0 703.9l1 0.25M380.7 705.9l1 0.25M388.4 708.0l1 0.25M396.1 710.0l1 0.25M403.8 712.1l1 0.25M411.5 714.1l1 0.25M419.2 716.2l1 0.25M426.9 718.2l1 0.25M434.6 720.3l1 0.25M314.6 693.1l1 0.25M322.2 695.1l1 0.25M329.8 697.2l1 0.25M337.4 699.3l1 0.25M345.0 701.3l1 0.25M352.6 703.4l1 0.25M360.2 705.4l1 0.25M367.8 707.5l1 0.25M375.4 709.5l1 0.25M383.0 711.6l1 0.25M390.6 713.7l1 0.25M398.3 715.7l1 0.25M405.9 717.8l1 0.25M413.5 719.8l1 0.25M421.1 721.9l1 0.25M428.7 723.9l1 0.25" stroke="#9a9a9c" stroke-width="0.9" fill="none"/>
<g fill="#d8d8d8"></g>
<polygon points="282.4,698.1 433.1,739 434.4,748.8 283.3,706.3" fill="#1d2d80"/>
<polyline points="283,698.6 433,739.5" fill="none" stroke="#4a5fb5" stroke-width="1"/>
<polygon points="431,739 434.4,739 435.5,748.8 432,748.5" fill="#3a6ee0"/>
<polygon points="432.5,739.8 477,706 479,710.5 433.8,747" fill="#bcbdbf"/>
<polyline points="433,742 478,708" fill="none" stroke="#f0f0f0" stroke-width="0.9"/>
</g>
<g stroke="#0a0a0a" fill="none">
<line x1="289" y1="245.7" x2="610" y2="245.7" stroke-width="1.5"/>
<line x1="260" y1="336.9" x2="427" y2="336.9" stroke-width="2.2"/>
<line x1="260" y1="390.8" x2="446" y2="390.8" stroke-width="2.2"/>
<line x1="260" y1="485.7" x2="425" y2="485.7" stroke-width="2.2"/>
<line x1="260" y1="573.3" x2="362" y2="573.3" stroke-width="2.2"/>
<line x1="252" y1="647.3" x2="320" y2="647.3" stroke-width="2.2"/>
<line x1="260" y1="714.3" x2="343" y2="714.3" stroke-width="1.4"/>
<line x1="610.4" y1="270.8" x2="777" y2="270.8" stroke-width="2.2"/>
<line x1="695.7" y1="528.8" x2="777" y2="528.8" stroke-width="2.2"/>
<line x1="565" y1="618.1" x2="777" y2="618.1" stroke-width="2.2"/>
<line x1="452" y1="687" x2="777" y2="687" stroke-width="1.4"/>
</g>
<rect x="787.5" y="766.5" width="1.5" height="2" fill="#9a9a9a"/>
</svg>
</body></html>
